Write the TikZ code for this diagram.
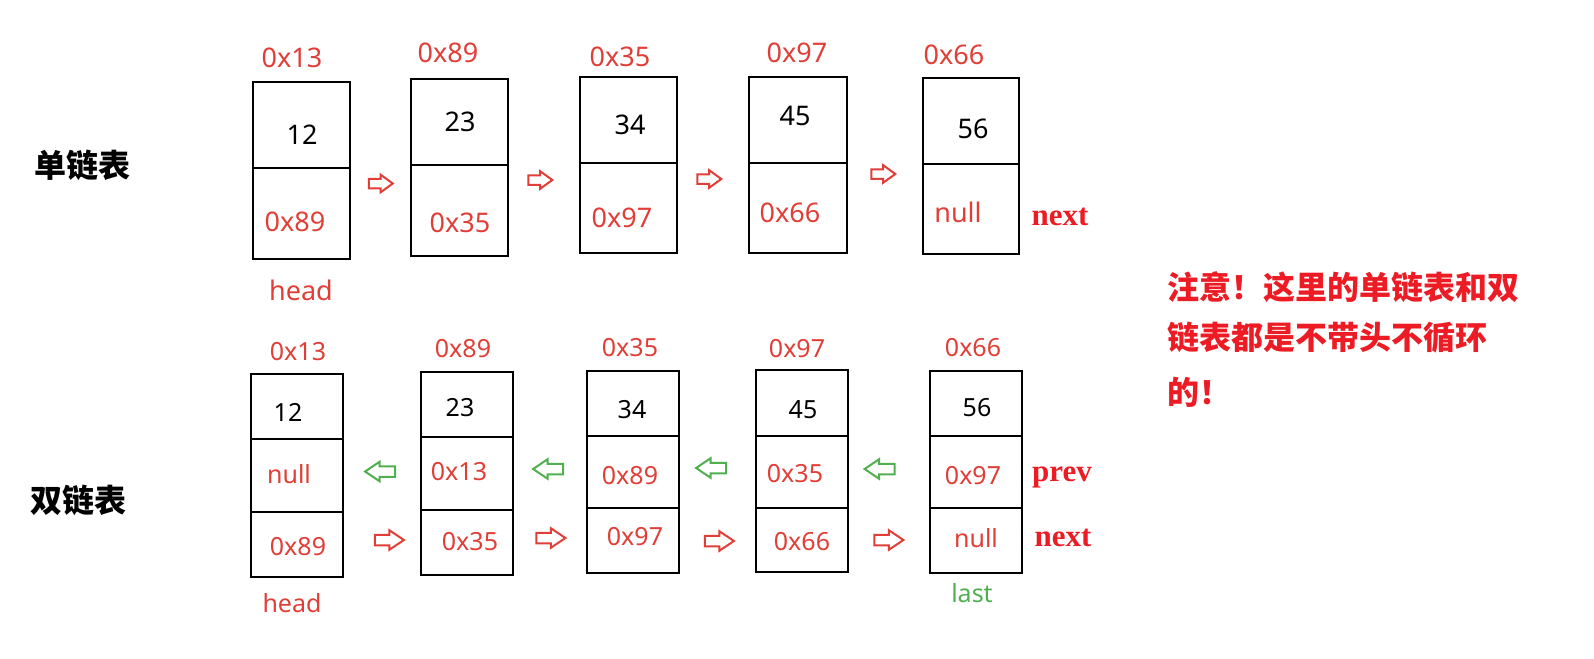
\documentclass[tikz,border=0pt]{standalone}
\usepackage{fontspec}
\setmainfont{Noto Sans}
\newfontfamily\cjk{Noto Sans CJK SC}
\newfontfamily\tms{Liberation Serif}
\usetikzlibrary{shapes.arrows}
\definecolor{tred}{RGB}{224,62,54}
\definecolor{bred}{RGB}{237,28,36}
\definecolor{tgreen}{RGB}{80,176,80}
\begin{document}
\begin{tikzpicture}[x=1pt,y=-1pt,
  cell/.style={draw=black, line width=2.5pt, inner sep=0pt, outer sep=0pt, anchor=north west},
  ttop/.style={font=\fontsize{27}{30}\selectfont, inner sep=0pt},
  tbot/.style={font=\fontsize{25}{28}\selectfont, inner sep=0pt},
  adr/.style={text=tred},
  val/.style={text=black},
  kw/.style={font=\tms\bfseries\fontsize{31}{34}\selectfont, text=bred, inner sep=0pt},
  side/.style={font=\cjk\bfseries\fontsize{32}{36}\selectfont, text=black, inner sep=0pt},
  note/.style={font=\cjk\bfseries\fontsize{32}{36}\selectfont, text=bred, inner sep=0pt, anchor=west},
  blockarrow/.style={shape=single arrow, draw, line width=2pt, inner sep=0pt, outer sep=0pt,
     text width=0pt, text depth=0pt},
  redsmall/.style={blockarrow, draw=tred, text height=7.5pt, single arrow head extend=4pt,
     single arrow tip angle=72, minimum height=24pt},
  redbig/.style={blockarrow, draw=tred, text height=8.5pt, single arrow head extend=4.5pt,
     single arrow tip angle=68, minimum height=29pt},
  greenarrow/.style={blockarrow, draw=tgreen, text height=8.5pt, single arrow head extend=4.5pt,
     single arrow tip angle=68, minimum height=30pt, shape border rotate=180},
]
\useasboundingbox (0,0) rectangle (1594,658);

% ---------- single linked list ----------
\node[side] (lab1) at (82,165) {单链表};

\node[cell, minimum width=97pt, minimum height=86pt] (t1a) at (253,82) {};
\node[cell, minimum width=97pt, minimum height=91pt] (t1b) at (253,168) {};
\node[cell, minimum width=97pt, minimum height=86pt] (t2a) at (411,79) {};
\node[cell, minimum width=97pt, minimum height=91pt] (t2b) at (411,165) {};
\node[cell, minimum width=97pt, minimum height=86pt] (t3a) at (580,77) {};
\node[cell, minimum width=97pt, minimum height=90pt] (t3b) at (580,163) {};
\node[cell, minimum width=98pt, minimum height=86pt] (t4a) at (749,77) {};
\node[cell, minimum width=98pt, minimum height=90pt] (t4b) at (749,163) {};
\node[cell, minimum width=96pt, minimum height=86pt] (t5a) at (923,78) {};
\node[cell, minimum width=96pt, minimum height=90pt] (t5b) at (923,164) {};

\node[ttop, adr] (ta1) at (292,58) {0x13};
\node[ttop, val] (tv1) at (302,135) {12};
\node[ttop, adr] (tn1) at (295,222) {0x89};
\node[ttop, adr] (thead) at (301,290) {head};

\node[ttop, adr] (ta2) at (448,53) {0x89};
\node[ttop, val] (tv2) at (460,122) {23};
\node[ttop, adr] (tn2) at (460,223) {0x35};

\node[ttop, adr] (ta3) at (620,57) {0x35};
\node[ttop, val] (tv3) at (630,125) {34};
\node[ttop, adr] (tn3) at (622,218) {0x97};

\node[ttop, adr] (ta4) at (797,53) {0x97};
\node[ttop, val] (tv4) at (795,116) {45};
\node[ttop, adr] (tn4) at (790,213) {0x66};

\node[ttop, adr] (ta5) at (954,55) {0x66};
\node[ttop, val] (tv5) at (973,129) {56};
\node[ttop, adr] (tn5) at (958,212) {null};
\node[kw] (tnext) at (1060,217) {next};

\node[redsmall] (ar1) at (377.5,183.5) {};
\node[redsmall] (ar2) at (537,180) {};
\node[redsmall] (ar3) at (706,179) {};
\node[redsmall] (ar4) at (880,174) {};

% ---------- doubly linked list ----------
\node[side] (lab2) at (78,500) {双链表};

\node[cell, minimum width=92pt, minimum height=65pt] (c1a) at (251,374) {};
\node[cell, minimum width=92pt, minimum height=73pt] (c1b) at (251,439) {};
\node[cell, minimum width=92pt, minimum height=65pt] (c1c) at (251,512) {};
\node[cell, minimum width=92pt, minimum height=65pt] (c2a) at (421,372) {};
\node[cell, minimum width=92pt, minimum height=73pt] (c2b) at (421,437) {};
\node[cell, minimum width=92pt, minimum height=65pt] (c2c) at (421,510) {};
\node[cell, minimum width=92pt, minimum height=65pt] (c3a) at (587,371) {};
\node[cell, minimum width=92pt, minimum height=72pt] (c3b) at (587,436) {};
\node[cell, minimum width=92pt, minimum height=65pt] (c3c) at (587,508) {};
\node[cell, minimum width=92pt, minimum height=66pt] (c4a) at (756,370) {};
\node[cell, minimum width=92pt, minimum height=72pt] (c4b) at (756,436) {};
\node[cell, minimum width=92pt, minimum height=64pt] (c4c) at (756,508) {};
\node[cell, minimum width=92pt, minimum height=65pt] (c5a) at (930,371) {};
\node[cell, minimum width=92pt, minimum height=72pt] (c5b) at (930,436) {};
\node[cell, minimum width=92pt, minimum height=65pt] (c5c) at (930,508) {};

\node[tbot, adr] (ba1) at (298,352) {0x13};
\node[tbot, val] (bv1) at (288,412) {12};
\node[tbot, adr] (bp1) at (289,474) {null};
\node[tbot, adr] (bn1) at (298,547) {0x89};
\node[tbot, adr] (bhead) at (292,603) {head};

\node[tbot, adr] (ba2) at (463,349) {0x89};
\node[tbot, val] (bv2) at (460,408) {23};
\node[tbot, adr] (bp2) at (459,472) {0x13};
\node[tbot, adr] (bn2) at (470,542) {0x35};

\node[tbot, adr] (ba3) at (630,348) {0x35};
\node[tbot, val] (bv3) at (632,410) {34};
\node[tbot, adr] (bp3) at (630,476) {0x89};
\node[tbot, adr] (bn3) at (635,537) {0x97};

\node[tbot, adr] (ba4) at (797,349) {0x97};
\node[tbot, val] (bv4) at (803,410) {45};
\node[tbot, adr] (bp4) at (795,474) {0x35};
\node[tbot, adr] (bn4) at (802,542) {0x66};

\node[tbot, adr] (ba5) at (973,348) {0x66};
\node[tbot, val] (bv5) at (977,408) {56};
\node[tbot, adr] (bp5) at (973,476) {0x97};
\node[tbot, adr] (bn5) at (976,538) {null};
\node[tbot, text=tgreen] (blast) at (972,593) {last};
\node[kw] (bprev) at (1062,477) {prev};
\node[kw] (bnext) at (1063,538) {next};

\node[greenarrow] (ag1) at (384,471.5) {};
\node[greenarrow] (ag2) at (552,469) {};
\node[greenarrow] (ag3) at (715,468) {};
\node[greenarrow] (ag4) at (883.5,469) {};

\node[redbig] (br1) at (385.5,540) {};
\node[redbig] (br2) at (547,538) {};
\node[redbig] (br3) at (715.5,541) {};
\node[redbig] (br4) at (885,540) {};

% ---------- note ----------
\node[note] (note1) at (1167,287) {注意！这里的单链表和双};
\node[note] (note2) at (1167,338) {链表都是不带头不循环};
\node[note] (note3) at (1167,392) {的！};
\end{tikzpicture}
\end{document}
